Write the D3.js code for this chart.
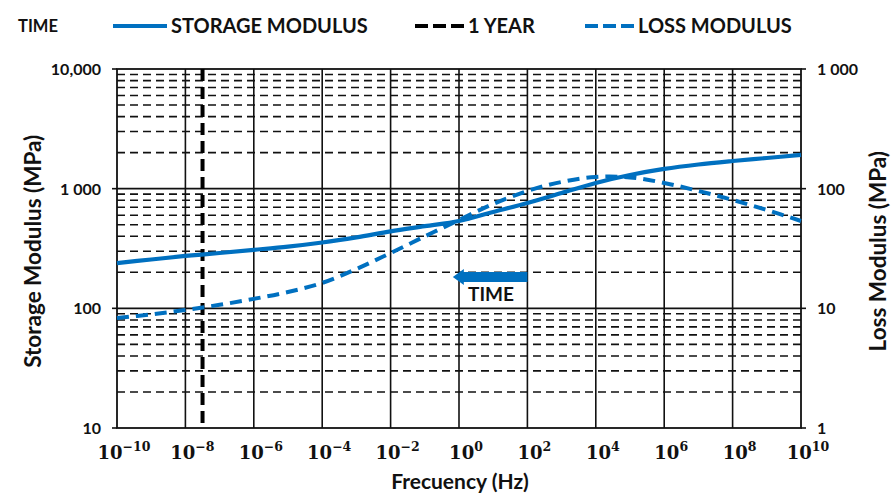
<!DOCTYPE html>
<html>
<head>
<meta charset="utf-8">
<script src="https://cdn.jsdelivr.net/npm/d3@7"></script>
<style>
  html, body { margin: 0; padding: 0; background: #fff; }
  svg { display: block; }
  text { font-family: Lato, "Open Sans", sans-serif; font-weight: bold; fill: #111; }
</style>
</head>
<body>
<svg id="chart" width="891" height="495"></svg>
<script>
// Frequency sweep (Hz), one point per decade
const frequency = [1e-10, 1e-9, 1e-8, 1e-7, 1e-6, 1e-5, 1e-4, 1e-3, 1e-2, 1e-1, 1e0,
                   1e1, 1e2, 1e3, 1e4, 1e5, 1e6, 1e7, 1e8, 1e9, 1e10];
// Storage modulus E' (MPa), left axis
const storageModulus = [239, 256, 274, 290, 308, 328, 355, 392, 440, 486, 537,
                        638, 759, 920, 1116, 1300, 1462, 1593, 1702, 1804, 1914];
// Loss modulus E'' (MPa), right axis
const lossModulus = [8.3, 8.9, 9.7, 10.7, 12.0, 13.7, 16.3, 21.3, 29.0, 39.9, 54.8,
                     74.5, 95.7, 113.8, 125.3, 124.2, 111.7, 95.7, 80.5, 66.4, 53.7];
// One year expressed as a frequency (1 / 31 536 000 s)
const oneYearHz = 3.17e-8;
// "TIME" arrow: from / to frequency, at a storage-modulus level
const timeArrow = { from: 1e2, to: 0.66, level: 183 };

const xTicks = [1e-10, 1e-8, 1e-6, 1e-4, 1e-2, 1e0, 1e2, 1e4, 1e6, 1e8, 1e10];
const xExponents = ["−10", "−8", "−6", "−4", "−2", "0", "2", "4", "6", "8", "10"];
const leftTicks = [10, 100, 1000, 10000];
const leftTickLabels = ["10", "100", "1 000", "10,000"];
const rightTicks = [1, 10, 100, 1000];
const rightTickLabels = ["1", "10", "100", "1 000"];

const blue = "#0070C0";
const svg = d3.select("#chart");
const plot = { left: 117, right: 801, top: 69, bottom: 428 };

const x = d3.scaleLog().domain([1e-10, 1e10]).range([plot.left, plot.right]);
const yL = d3.scaleLog().domain([10, 10000]).range([plot.bottom, plot.top]);
const yR = d3.scaleLog().domain([1, 1000]).range([plot.bottom, plot.top]);

// Horizontal grid: dashed minor lines, solid decade lines
const minorVals = [];
[10, 100, 1000].forEach(d => { for (let m = 2; m <= 9; m++) minorVals.push(d * m); });
svg.append("g").selectAll("line").data(minorVals).join("line")
  .attr("x1", plot.left).attr("x2", plot.right)
  .attr("y1", d => yL(d)).attr("y2", d => yL(d))
  .attr("stroke", "#111").attr("stroke-width", 1.6).attr("stroke-dasharray", "8,5");
svg.append("g").selectAll("line").data([100, 1000]).join("line")
  .attr("x1", plot.left).attr("x2", plot.right)
  .attr("y1", d => yL(d)).attr("y2", d => yL(d))
  .attr("stroke", "#111").attr("stroke-width", 1.6);

// Vertical grid every two decades
svg.append("g").selectAll("line").data(xTicks.slice(1, -1)).join("line")
  .attr("x1", d => x(d)).attr("x2", d => x(d))
  .attr("y1", plot.top).attr("y2", plot.bottom)
  .attr("stroke", "#111").attr("stroke-width", 1.6);

// Plot frame
svg.append("rect")
  .attr("x", plot.left).attr("y", plot.top)
  .attr("width", plot.right - plot.left).attr("height", plot.bottom - plot.top)
  .attr("fill", "none").attr("stroke", "#111").attr("stroke-width", 1.8);

// Outer tick marks on the left and right axes
svg.append("g").selectAll("line").data(leftTicks).join("line")
  .attr("x1", plot.left - 5).attr("x2", plot.left)
  .attr("y1", d => yL(d)).attr("y2", d => yL(d))
  .attr("stroke", "#111").attr("stroke-width", 1.6);
svg.append("g").selectAll("line").data(rightTicks).join("line")
  .attr("x1", plot.right).attr("x2", plot.right + 5)
  .attr("y1", d => yR(d)).attr("y2", d => yR(d))
  .attr("stroke", "#111").attr("stroke-width", 1.6);

// Tick labels
svg.append("g").selectAll("text").data(leftTicks).join("text")
  .attr("x", plot.left - 16).attr("y", d => yL(d) + 6)
  .attr("text-anchor", "end").attr("font-size", 16)
  .text((d, i) => leftTickLabels[i]);
svg.append("g").selectAll("text").data(rightTicks).join("text")
  .attr("x", plot.right + 16).attr("y", d => yR(d) + 6)
  .attr("text-anchor", "start").attr("font-size", 16)
  .text((d, i) => rightTickLabels[i]);

const xl = svg.append("g").selectAll("text").data(xTicks).join("text")
  .attr("x", d => x(d) + 7).attr("y", 459)
  .attr("text-anchor", "middle")
  .style("font-family", "'DejaVu Serif', 'Liberation Serif', serif")
  .attr("font-size", 18);
xl.append("tspan").text("10");
xl.append("tspan").attr("dy", -8).attr("font-size", 12.5).text((d, i) => xExponents[i]);

// Axis titles
svg.append("text").attr("x", plot.left + (plot.right - plot.left) / 2 + 1).attr("y", 489)
  .attr("text-anchor", "middle").attr("font-size", 21).text("Frecuency (Hz)");
svg.append("text").attr("transform", `translate(41, ${yL(300)}) rotate(-90)`)
  .attr("text-anchor", "middle").attr("font-size", 22.5).text("Storage Modulus (MPa)");
svg.append("text").attr("transform", `translate(886, ${yL(300)}) rotate(-90)`)
  .attr("text-anchor", "middle").attr("font-size", 22.5).text("Loss Modulus (MPa)");

// One-year marker
svg.append("line")
  .attr("x1", x(oneYearHz)).attr("x2", x(oneYearHz))
  .attr("y1", plot.top).attr("y2", plot.bottom)
  .attr("stroke", "#000").attr("stroke-width", 4).attr("stroke-dasharray", "12,6");

// Curves
const storageLine = d3.line()
  .x((d, i) => x(frequency[i])).y(d => yL(d)).curve(d3.curveCatmullRom.alpha(0.5));
const lossLine = d3.line()
  .x((d, i) => x(frequency[i])).y(d => yR(d)).curve(d3.curveCatmullRom.alpha(0.5));

svg.append("path").datum(lossModulus).attr("d", lossLine)
  .attr("fill", "none").attr("stroke", blue).attr("stroke-width", 4)
  .attr("stroke-dasharray", "12,7");
svg.append("path").datum(storageModulus).attr("d", storageLine)
  .attr("fill", "none").attr("stroke", blue).attr("stroke-width", 4.2);

// TIME arrow pointing toward lower frequency
const ax0 = x(timeArrow.from), ax1 = x(timeArrow.to), ay = yL(timeArrow.level);
const head = 11;
svg.append("path")
  .attr("d", `M${ax0},${ay - 5} L${ax1 + head},${ay - 5} L${ax1 + head},${ay - 8}
              L${ax1},${ay} L${ax1 + head},${ay + 8} L${ax1 + head},${ay + 5} L${ax0},${ay + 5} Z`)
  .attr("fill", blue);
svg.append("text").attr("x", 491).attr("y", ay + 24)
  .attr("text-anchor", "middle").attr("font-size", 19).text("TIME");

// Legend
const lg = svg.append("g");
lg.append("text").attr("x", 18).attr("y", 32).attr("font-size", 16.5).text("TIME");
const legendItems = [
  { x0: 113, x1: 167, label: "STORAGE MODULUS", color: blue, dash: null },
  { x0: 415, x1: 464, label: "1 YEAR", color: "#000", dash: "13,5" },
  { x0: 585, x1: 634, label: "LOSS MODULUS", color: blue, dash: "13,5" }
];
legendItems.forEach(it => {
  lg.append("line").attr("x1", it.x0).attr("x2", it.x1).attr("y1", 26).attr("y2", 26)
    .attr("stroke", it.color).attr("stroke-width", 4)
    .attr("stroke-dasharray", it.dash);
  lg.append("text").attr("x", it.x1 + 4).attr("y", 33).attr("font-size", 20).text(it.label);
});
</script>
</body>
</html>
